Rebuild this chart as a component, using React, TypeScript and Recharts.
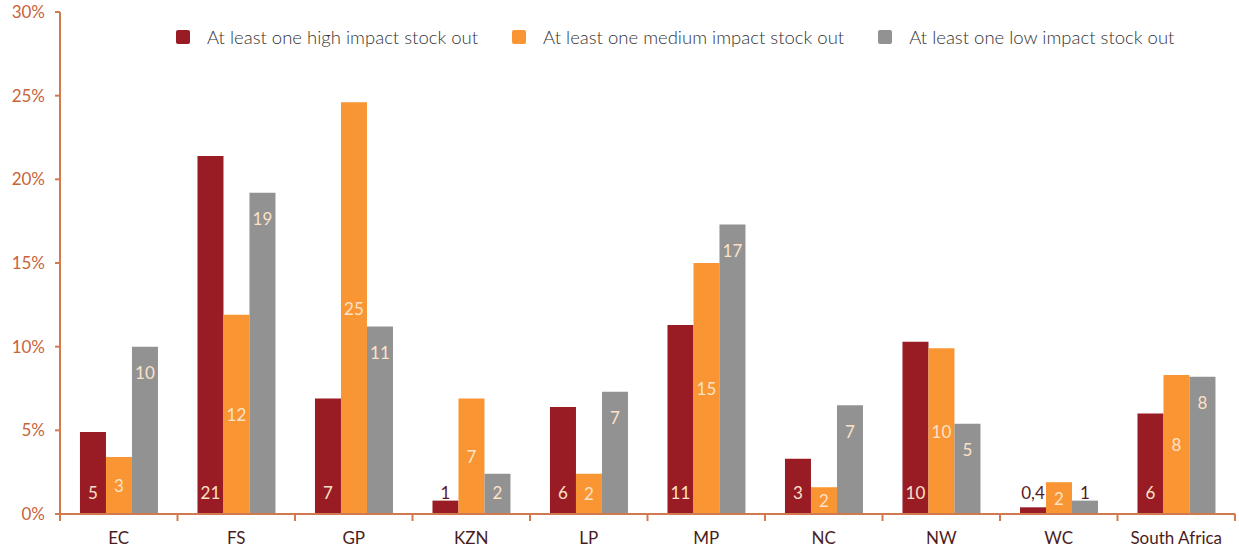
import React from 'react';
import { BarChart, Bar, XAxis, YAxis, LabelList } from 'recharts';

const regions = ['EC', 'FS', 'GP', 'KZN', 'LP', 'MP', 'NC', 'NW', 'WC', 'South Africa'];
const highImpact = [4.9, 21.4, 6.9, 0.8, 6.4, 11.3, 3.3, 10.3, 0.4, 6.0];
const mediumImpact = [3.4, 11.9, 24.6, 6.9, 2.4, 15.0, 1.6, 9.9, 1.9, 8.3];
const lowImpact = [10.0, 19.2, 11.2, 2.4, 7.3, 17.3, 6.5, 5.4, 0.8, 8.2];
const yTicks = [0, 5, 10, 15, 20, 25, 30];

const seriesNames = [
  'At least one high impact stock out',
  'At least one medium impact stock out',
  'At least one low impact stock out',
];

const data = regions.map((r, i) => ({
  region: r,
  high: highImpact[i],
  medium: mediumImpact[i],
  low: lowImpact[i],
}));

const RED = '#991c24';
const ORANGE = '#f99633';
const GREY = '#929292';
const AXIS = '#d27a4f';
const LIGHT = '#fbe2c9';
const DARK = '#5a1a1e';
const FONT = 'Lato, "Open Sans", sans-serif';

// whole numbers, except values that would round to zero
const fmt = (v: number) => (Math.round(v) === 0 ? v.toFixed(1).replace('.', ',') : String(Math.round(v)));

// red: label near base; grey: near top; both dropped to base line when bar is tiny
const baseLabel = (props: any) => {
  const { x, y, width, height, value } = props;
  const bottom = y + height;
  const fits = height > 30;
  return (
    <text x={x + width / 2} y={bottom - 22} textAnchor="middle" dominantBaseline="central"
      fill={fits ? LIGHT : DARK} fontSize={17} fontFamily={FONT}>
      {fmt(value)}
    </text>
  );
};

const centerLabel = (props: any) => {
  const { x, y, width, height, value } = props;
  return (
    <text x={x + width / 2} y={y + height / 2} textAnchor="middle" dominantBaseline="central"
      fill={LIGHT} fontSize={17} fontFamily={FONT}>
      {fmt(value)}
    </text>
  );
};

const endLabel = (props: any) => {
  const { x, y, width, height, value } = props;
  const bottom = y + height;
  const cy = Math.min(y + 26, bottom - 22);
  const fits = height > 30;
  return (
    <text x={x + width / 2} y={cy} textAnchor="middle" dominantBaseline="central"
      fill={fits ? LIGHT : DARK} fontSize={17} fontFamily={FONT}>
      {fmt(value)}
    </text>
  );
};

const CategoryTick = (props: any) => {
  const { x, y, payload, index } = props;
  const half = payload.offset || 58.75;
  return (
    <g>
      <line x1={x - half} x2={x - half} y1={y} y2={y + 7} stroke={AXIS} strokeWidth={2} />
      {index === regions.length - 1 && (
        <line x1={x + half} x2={x + half} y1={y} y2={y + 7} stroke={AXIS} strokeWidth={2} />
      )}
      <text x={x} y={y + 30} textAnchor="middle" fill="#4a1d1d" fontSize={17} fontFamily={FONT}>
        {payload.value}
      </text>
    </g>
  );
};

const legendColors = [RED, ORANGE, GREY];

export default function App() {
  return (
    <div style={{ position: 'relative', width: 1239, height: 551, background: '#fff' }}>
      <style>{'body{margin:0}'}</style>
      <div style={{ position: 'absolute', top: 26, left: 176, display: 'flex', alignItems: 'center', fontFamily: FONT, zIndex: 1 }}>
        {seriesNames.map((name, i) => (
          <div key={name} style={{ display: 'flex', alignItems: 'center', marginRight: 34 }}>
            <span style={{ width: 14, height: 14, borderRadius: 2, background: legendColors[i], marginRight: 17 }} />
            <span style={{ fontSize: 18.5, color: '#333', fontWeight: 300, lineHeight: '22px' }}>{name}</span>
          </div>
        ))}
      </div>
      <BarChart width={1239} height={551} data={data}
        margin={{ top: 12, right: 4, bottom: 7, left: 0 }}
        barCategoryGap="17%" barGap={0}>
        <XAxis dataKey="region" interval={0} tickSize={0} tickMargin={0} height={30}
          axisLine={{ stroke: AXIS, strokeWidth: 2 }} tickLine={false} tick={<CategoryTick />} />
        <YAxis width={60} domain={[0, 30]} ticks={yTicks} tickFormatter={(v) => `${v}%`}
          axisLine={{ stroke: AXIS, strokeWidth: 2 }} tickLine={{ stroke: AXIS, strokeWidth: 2 }}
          tickSize={5} tickMargin={10}
          tick={{ fill: '#c8633a', fontSize: 17, fontFamily: FONT }} />
        <Bar dataKey="high" name={seriesNames[0]} fill={RED} isAnimationActive={false}>
          <LabelList dataKey="high" content={baseLabel} />
        </Bar>
        <Bar dataKey="medium" name={seriesNames[1]} fill={ORANGE} isAnimationActive={false}>
          <LabelList dataKey="medium" content={centerLabel} />
        </Bar>
        <Bar dataKey="low" name={seriesNames[2]} fill={GREY} isAnimationActive={false}>
          <LabelList dataKey="low" content={endLabel} />
        </Bar>
      </BarChart>
    </div>
  );
}
